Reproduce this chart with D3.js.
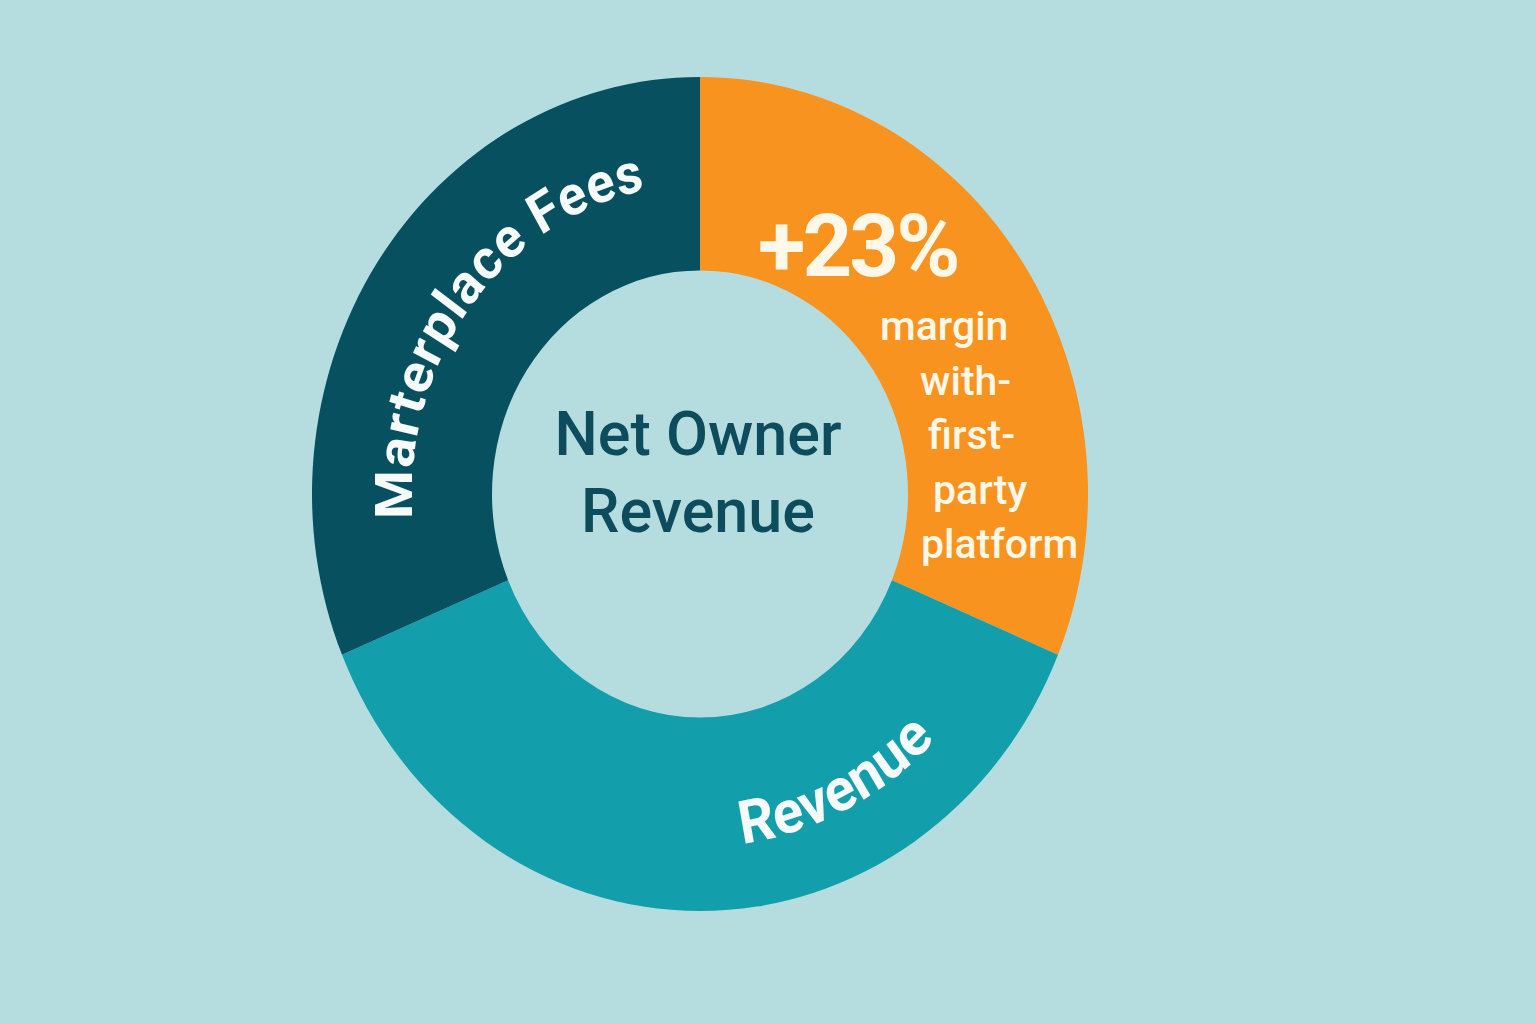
<!DOCTYPE html>
<html>
<head>
<meta charset="utf-8">
<script src="https://cdn.jsdelivr.net/npm/d3@7"></script>
<style>
  html, body { margin: 0; padding: 0; background: #b5dde0; }
  svg { display: block; }
</style>
</head>
<body>
<div id="chart"></div>
<script>
// slices, clockwise from 12 o'clock
var segments = ['First-party platform', 'Revenue', 'Marterplace Fees'];
var shares = [31.3, 37.4, 31.3];
var colors = ['#f7931e', '#129fab', '#06505f'];

var centerLines = ['Net Owner', 'Revenue'];
var highlight = '+23%';
var noteLines = ['margin', 'with-', 'first-', 'party', 'platform'];

var W = 1536, H = 1024,
    cx = 700, cy = 494, sy = 1.075,
    rOut = 388, rIn = 208;

var svg = d3.select('#chart').append('svg')
    .attr('width', W)
    .attr('height', H);

svg.append('rect')
    .attr('width', W)
    .attr('height', H)
    .attr('fill', '#b5dde0');

// ring is drawn in a slightly stretched group, like the original
var ring = svg.append('g')
    .attr('transform', 'translate(' + cx + ',' + cy + ') scale(1,' + sy + ')');

var pie = d3.pie().sort(null).value(function(d) { return d; });
var arc = d3.arc().innerRadius(rIn).outerRadius(rOut);

ring.selectAll('path.slice')
    .data(pie(shares))
  .enter().append('path')
    .attr('class', 'slice')
    .attr('d', arc)
    .attr('fill', function(d, i) { return colors[i]; });

// curved labels (angles in degrees, clockwise from top)
function arcPath(r, a0, a1, ccw) {
  var t0 = (a0 - 90) * Math.PI / 180,
      t1 = (a1 - 90) * Math.PI / 180,
      p = d3.path();
  p.moveTo(r * Math.cos(t0), r * Math.sin(t0));
  p.arc(0, 0, r, t0, t1, ccw);
  return p.toString();
}

var curved = [
  { slice: 2, r: 288, from: 265.4, to: 359, ccw: false, size: 52, ls: 0.8 },
  { slice: 1, r: 328, from: 172.6, to: 115, ccw: true, size: 56, ls: 0.5 }
];

curved.forEach(function(c) {
  var id = 'lbl' + c.slice;
  ring.append('path')
      .attr('id', id)
      .attr('d', arcPath(c.r, c.from, c.to, c.ccw))
      .attr('fill', 'none');
  ring.append('text')
      .attr('font-family', 'Roboto, sans-serif')
      .attr('font-weight', 700)
      .attr('font-size', c.size)
      .attr('letter-spacing', c.ls)
      .attr('fill', '#f6fbf9')
    .append('textPath')
      .attr('href', '#' + id)
      .text(segments[c.slice]);
});

// centre
svg.append('g').selectAll('text')
    .data(centerLines)
  .enter().append('text')
    .attr('x', 698)
    .attr('y', function(d, i) { return 455 + i * 77; })
    .attr('text-anchor', 'middle')
    .attr('font-family', 'Roboto, sans-serif')
    .attr('font-weight', 500)
    .attr('font-size', 61)
    .attr('fill', '#0c4c5c')
    .text(String);

// orange slice annotation
svg.append('text')
    .attr('x', 758)
    .attr('y', 276)
    .attr('font-family', 'Roboto, sans-serif')
    .attr('font-weight', 700)
    .attr('font-size', 87)
    .attr('letter-spacing', -3)
    .attr('fill', '#fff8e8')
    .text(highlight);

var noteX = [880, 920, 928, 933, 921];
svg.append('g').selectAll('text')
    .data(noteLines)
  .enter().append('text')
    .attr('x', function(d, i) { return noteX[i]; })
    .attr('y', function(d, i) { return 340 + i * 54.5; })
    .attr('font-family', 'Roboto, sans-serif')
    .attr('font-weight', 500)
    .attr('font-size', 41)
    .attr('fill', '#fff8e8')
    .text(String);
</script>
</body>
</html>
